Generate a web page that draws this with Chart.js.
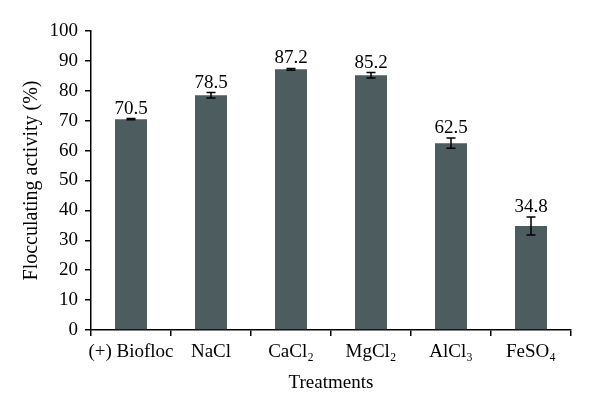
<!DOCTYPE html>
<html><head><meta charset="utf-8">
<script src="https://cdn.jsdelivr.net/npm/chart.js@4/dist/chart.umd.min.js"></script>
<style>html,body{margin:0;padding:0;background:#fff}#wrap{width:600px;height:414px}</style>
</head><body><div id="wrap"><canvas id="c" width="600" height="414"></canvas></div>
<script>
const categories = ["(+) Biofloc", "NaCl", "CaCl\u2082", "MgCl\u2082", "AlCl\u2083", "FeSO\u2084"];
const activity = [70.5, 78.5, 87.2, 85.2, 62.5, 34.8];
const errors = [0.2, 0.9, 0.3, 0.9, 1.7, 3.0];
const yTicks = [0, 10, 20, 30, 40, 50, 60, 70, 80, 90, 100];

const FONT = "'Liberation Serif', 'DejaVu Serif', serif";

const errPlugin = {
  id: 'errbars',
  afterDatasetsDraw(chart) {
    const ctx = chart.ctx, meta = chart.getDatasetMeta(0), y = chart.scales.y;
    ctx.save();
    ctx.strokeStyle = '#000'; ctx.lineWidth = 1.5;
    ctx.fillStyle = '#000';
    ctx.font = '19px ' + FONT;
    ctx.textAlign = 'center'; ctx.textBaseline = 'alphabetic';
    meta.data.forEach((bar, i) => {
      const x = bar.x;
      const top = y.getPixelForValue(activity[i] + errors[i]);
      const bot = y.getPixelForValue(activity[i] - errors[i]);
      ctx.beginPath();
      ctx.moveTo(x, top); ctx.lineTo(x, bot);
      ctx.moveTo(x - 4.5, top); ctx.lineTo(x + 4.5, top);
      ctx.moveTo(x - 4.5, bot); ctx.lineTo(x + 4.5, bot);
      ctx.stroke();
      ctx.fillText(activity[i].toFixed(1), x, top - 5);
    });
    ctx.restore();
  }
};

new Chart(document.getElementById('c'), {
  type: 'bar',
  data: { labels: categories, datasets: [{ data: activity, backgroundColor: '#4d5d5f', barPercentage: 0.4, categoryPercentage: 1.0 }] },
  options: {
    responsive: false, animation: false,
    layout: { padding: { left: 20, right: 29, top: 31, bottom: 20 } },
    plugins: { legend: { display: false }, tooltip: { enabled: false } },
    scales: {
      x: {
        offset: true,
        grid: { display: true, drawOnChartArea: false, drawTicks: true, tickLength: 6, color: '#000', lineWidth: 1.5, offset: true },
        border: { display: true, color: '#000', width: 1.5 },
        ticks: { color: '#000', font: { family: FONT, size: 19 }, padding: 5, maxRotation: 0, minRotation: 0, autoSkip: false },
        title: { display: true, text: 'Treatments', color: '#000', font: { family: FONT, size: 19 }, padding: { top: 6, bottom: 0 } },
        afterFit(s) { s.height = 64; }
      },
      y: {
        min: 0, max: 100,
        afterBuildTicks(s) { s.ticks = yTicks.map(v => ({ value: v })); },
        grid: { display: true, drawOnChartArea: false, drawTicks: true, tickLength: 6, color: '#000', lineWidth: 1.5 },
        border: { display: true, color: '#000', width: 1.5 },
        ticks: { color: '#000', font: { family: FONT, size: 19 }, padding: 7 },
        title: { display: true, text: 'Flocculating activity (%)', color: '#000', font: { family: FONT, size: 20 }, padding: { top: 0, bottom: 8 } },
        afterFit(s) { s.width = 71; }
      }
    }
  },
  plugins: [errPlugin]
});
</script></body></html>
